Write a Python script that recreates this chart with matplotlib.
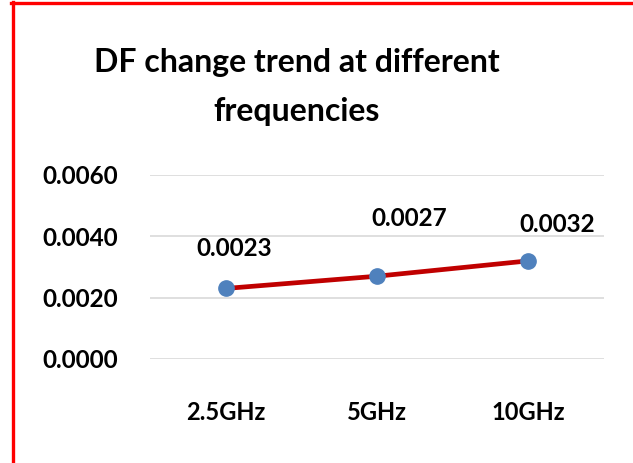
import matplotlib.pyplot as plt
from matplotlib.lines import Line2D

plt.rcParams['font.family'] = ['Lato', 'DejaVu Sans']

categories = ['2.5GHz', '5GHz', '10GHz']
df_values = [0.0023, 0.0027, 0.0032]
y_ticks = [0.0, 0.002, 0.004, 0.006]
# label offsets in pixels (dx, dy) relative to each point
label_offsets = [(9, 40), (32, 58), (29, 36)]

W, H = 633, 463
fig = plt.figure(figsize=(W / 100, H / 100), dpi=100)

# plot area in pixels: x 150..604, y 175..359
ax = fig.add_axes([150 / W, 1 - 359 / H, 454 / W, 184 / H])
x = list(range(len(categories)))
ax.plot(x, df_values, color='#C00000', lw=3.4, zorder=3,
        marker='o', markersize=11, markerfacecolor='#4F81BD',
        markeredgecolor='#4F81BD')

for xi, v, (dx, dy) in zip(x, df_values, label_offsets):
    ax.annotate(f'{v:.4f}', (xi, v), xytext=(dx * 0.72, dy * 0.72),
                textcoords='offset points', ha='center', va='center',
                fontsize=17.5, fontweight='bold', color='black')

ax.set_xlim(-0.5, len(categories) - 0.5)
ax.set_ylim(0, 0.006)
ax.set_yticks(y_ticks)
ax.set_yticklabels([f'{t:.4f}' for t in y_ticks], fontsize=17.5, fontweight='bold')
ax.set_xticks(x)
ax.set_xticklabels(categories, fontsize=17, fontweight='bold')
ax.tick_params(length=0)
ax.tick_params(axis='y', pad=23)
ax.tick_params(axis='x', pad=30)
ax.yaxis.grid(True, color='#D9D9D9', lw=1.2)
ax.set_axisbelow(True)
for s in ax.spines.values():
    s.set_visible(False)

fig.text(297 / W, 1 - 87 / H, 'DF change trend at different\nfrequencies',
         ha='center', va='center', fontsize=23, fontweight='bold',
         linespacing=1.85)

# red frame on top and left
fig.add_artist(Line2D([12.5 / W, 12.5 / W], [0, 1 - 1.5 / H],
                      transform=fig.transFigure, color='#FF0000', lw=2.4))
fig.add_artist(Line2D([11 / W, 1], [1 - 2.5 / H, 1 - 2.5 / H],
                      transform=fig.transFigure, color='#FF0000', lw=2.4))

fig.savefig('out.png', dpi=100)
